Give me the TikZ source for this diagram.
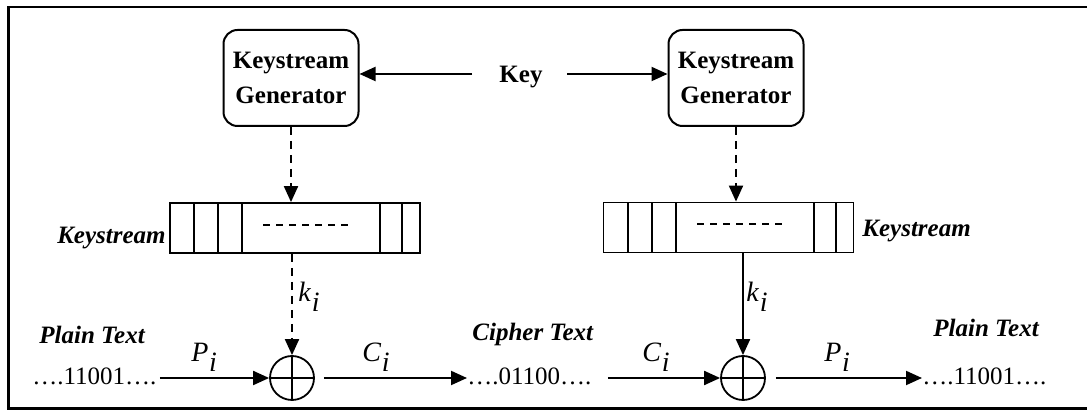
\documentclass[tikz,border=0pt]{standalone}
\usepackage{fontspec}
\setmainfont{Liberation Serif}
\usetikzlibrary{arrows.meta,calc}
\newcommand{\vsub}[2]{\textit{#1}\kern0.3pt\raisebox{-5pt}{\textit{#2}}}
\begin{document}
\begin{tikzpicture}[x=0.5pt,y=-0.5pt,
  every node/.style={font=\fontsize{12.5}{17.5}\selectfont, inner sep=0pt},
  gen/.style={draw, line width=1pt, rounded corners=7pt, minimum width=67.5pt, minimum height=48pt, align=center, font=\fontsize{12.5}{17.5}\selectfont\bfseries},
  reg/.style={draw, line width=0.9pt, minimum width=125pt, minimum height=25pt},
  regline/.style={line width=0.9pt},
  inner/.style={line width=0.8pt, dash pattern=on 3.5pt off 3pt},
  lbl/.style={font=\fontsize{12.5}{15}\selectfont\bfseries\itshape},
  bits/.style={font=\fontsize{12.5}{15}\selectfont},
  var/.style={font=\fontsize{14}{16}\selectfont},
  arr/.style={line width=1pt, -{Triangle[length=8pt,width=7pt]}},
  dsh/.style={arr, dash pattern=on 4pt off 3pt},
  xorn/.style={draw, circle, line width=0.9pt, minimum size=22pt},
]
\useasboundingbox (0,0) rectangle (1087,410);
\draw[line width=1.3pt] (1092,7) -- (8.5,7) -- (8.5,408.5) -- (1092,408.5);

% generators and key
\node[gen] (kg1) at (291,78) {Keystream\\Generator};
\node[gen] (kg2) at (736,78) {Keystream\\Generator};
\node[font=\fontsize{12.5}{15}\selectfont\bfseries] (key) at (521,77) {Key};
\coordinate (kl) at (472,74);
\coordinate (kr) at (567,74);
\draw[arr] (kl) -- (kl -| kg1.east);
\draw[arr] (kr) -- (kr -| kg2.west);

% registers
\node[reg] (reg1) at (295,228) {};
\node[reg] (reg2) at (728.5,227.5) {};
\foreach \x in {194,218,242,380,402} \draw[regline] (\x,203) -- (\x,253);
\foreach \x in {628,652,676,814,836} \draw[regline] (\x,203) -- (\x,252);
\draw[inner] (263,225) -- (352,225);
\draw[inner] (697,224) -- (787,224);
\node[lbl, anchor=base east] (ks1) at (166,244) {Keystream};
\node[lbl, anchor=base west] (ks2) at (862,237) {Keystream};

\draw[dsh] (kg1.south) -- (kg1.south |- reg1.north);
\draw[dsh] (kg2.south) -- (kg2.south |- reg2.north);

% xor circles
\node[xorn] (x1) at (292,378) {};
\node[xorn] (x2) at (743,378) {};
\draw[line width=0.9pt] ($(x1.west)+(2,0)$) -- ($(x1.east)+(-2,0)$);
\draw[line width=0.9pt] ($(x1.north)+(0,2)$) -- ($(x1.south)+(0,-2)$);
\draw[line width=0.9pt] ($(x2.west)+(2,0)$) -- ($(x2.east)+(-2,0)$);
\draw[line width=0.9pt] ($(x2.north)+(0,2)$) -- ($(x2.south)+(0,-2)$);

\draw[dsh] (reg1.south -| x1.north) -- (x1.north);
\draw[arr] (reg2.south -| x2.north) -- (x2.north);
\node[var, anchor=base west] (k1) at (298,302) {\vsub{k}{i}};
\node[var, anchor=base west] (k2) at (746,302) {\vsub{k}{i}};

% bottom row
\node[bits, anchor=base west] (pt1) at (32,385) {….11001….};
\node[bits, anchor=base west] (ct) at (467,385) {….01100….};
\node[bits, anchor=base west] (pt2) at (922,385) {….11001….};
\node[lbl, anchor=base west] (pl1) at (39,344) {Plain Text};
\node[lbl, anchor=base west] (cl) at (472,341) {Cipher Text};
\node[lbl, anchor=base west] (pl2) at (933,337) {Plain Text};

\draw[arr] ($(pt1.east |- x1.west)+(3,0)$) -- (x1.west);
\draw[arr] ($(x1.east)+(9,0)$) -- (x1.east -| ct.west);
\draw[arr] ($(ct.east |- x2.west)+(16,0)$) -- (x2.west);
\draw[arr] ($(x2.east)+(10,0)$) -- (x2.east -| pt2.west);

\node[var, anchor=base west] (p1) at (191,362) {\vsub{P}{i}};
\node[var, anchor=base west] (c1) at (362,362) {\vsub{C}{i}};
\node[var, anchor=base west] (c2) at (642,362) {\vsub{C}{i}};
\node[var, anchor=base west] (p2) at (824,362) {\vsub{P}{i}};
\end{tikzpicture}
\end{document}
